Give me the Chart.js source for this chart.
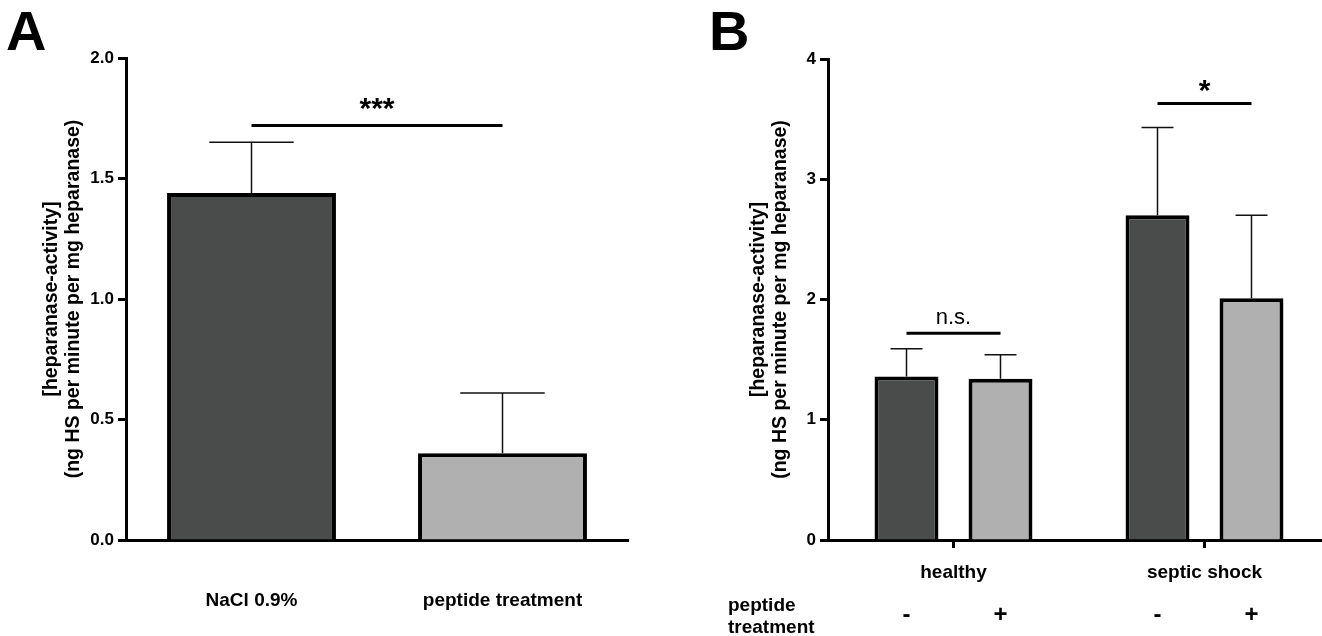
<!DOCTYPE html>
<html>
<head>
<meta charset="utf-8">
<script src="https://cdn.jsdelivr.net/npm/chart.js@4.4.1/dist/chart.umd.min.js"></script>
<style>
  html, body { margin: 0; padding: 0; background: #fff; overflow: hidden; width: 1322px; height: 636px; }
  .panel-letter { position: absolute; font: bold 56px "Liberation Sans", Arial, sans-serif; line-height: 56px; color: #000; }
  canvas { position: absolute; top: 0; }
</style>
</head>
<body>
<div class="panel-letter" style="left:6px;top:3px;">A</div>
<div class="panel-letter" style="left:709px;top:3px;">B</div>
<canvas id="chartA" width="660" height="636" style="left:0px;"></canvas>
<canvas id="chartB" width="650" height="636" style="left:690px;"></canvas>
<script>
// ============================================
// heparanase activity - panel A / panel B
// ============================================

const FONT = '"Liberation Sans", Arial, sans-serif';
const DARK = '#4a4c4b';
const LIGHT = '#b0b0b0';

// panel A data
const catsA = ['NaCl 0.9%', 'peptide treatment'];
const meanA = [1.44, 0.36];
const semA = [0.21, 0.25];
const ticksA = [0, 0.5, 1.0, 1.5, 2.0];

// panel B data
const groupsB = ['healthy', 'septic shock'];
const untreatedB = [1.36, 2.70];
const untreatedSemB = [0.23, 0.73];
const treatedB = [1.34, 2.01];
const treatedSemB = [0.20, 0.69];
const ticksB = [0, 1, 2, 3, 4];
const signsB = ['-', '+'];

const yTitle = ['[heparanase-activity]', '(ng HS per minute per mg heparanase)'];

// error bars, significance lines, extra labels
const annotatePlugin = {
  id: 'annotate',
  afterDatasetsDraw(chart, args, opts) {
    const ctx = chart.ctx;
    const yScale = chart.scales.y;
    ctx.save();

    // error bars (upper only)
    (opts.errors || []).forEach((errs, di) => {
      const meta = chart.getDatasetMeta(di);
      meta.data.forEach((bar, i) => {
        const mean = chart.data.datasets[di].data[i];
        const top = yScale.getPixelForValue(mean + errs[i]);
        const half = bar.width / 4;
        ctx.strokeStyle = '#111';
        ctx.lineWidth = 1.5;
        ctx.beginPath();
        ctx.moveTo(bar.x, bar.y);
        ctx.lineTo(bar.x, top);
        ctx.moveTo(bar.x - half, top);
        ctx.lineTo(bar.x + half, top);
        ctx.stroke();
      });
    });

    // significance lines
    (opts.sig || []).forEach(s => {
      const a = chart.getDatasetMeta(s.from[0]).data[s.from[1]];
      const b = chart.getDatasetMeta(s.to[0]).data[s.to[1]];
      const y = yScale.getPixelForValue(s.value);
      ctx.strokeStyle = '#000';
      ctx.lineWidth = 3;
      ctx.beginPath();
      ctx.moveTo(a.x, y);
      ctx.lineTo(b.x, y);
      ctx.stroke();
      ctx.fillStyle = '#000';
      ctx.font = s.font;
      ctx.textAlign = 'center';
      ctx.textBaseline = 'alphabetic';
      ctx.fillText(s.text, (a.x + b.x) / 2, y - s.lift);
    });

    // treatment row under the x axis
    if (opts.row) {
      const base = chart.chartArea.bottom;
      ctx.fillStyle = '#000';
      ctx.font = 'bold 19px ' + FONT;
      ctx.textAlign = 'left';
      ctx.textBaseline = 'middle';
      opts.row.label.forEach((t, k) => {
        ctx.fillText(t, opts.row.left, base + opts.row.labelY[k]);
      });
      ctx.font = 'bold 24px ' + FONT;
      ctx.textAlign = 'center';
      opts.row.signs.forEach((sign, di) => {
        chart.getDatasetMeta(di).data.forEach(bar => {
          ctx.fillText(sign, bar.x, base + opts.row.signY);
        });
      });
    }
    ctx.restore();
  }
};

function yAxis(ticks, width, titlePad, fmt) {
  return {
    min: ticks[0],
    max: ticks[ticks.length - 1],
    afterBuildTicks: scale => { scale.ticks = ticks.map(v => ({ value: v })); },
    afterFit: scale => { scale.width = width; },
    border: { display: true, color: '#000', width: 3 },
    grid: { display: true, drawOnChartArea: false, drawTicks: true, tickLength: 8, tickWidth: 3, tickColor: '#000' },
    ticks: {
      color: '#000',
      padding: 4,
      font: { family: FONT, size: 17, weight: 'bold' },
      callback: v => fmt(v)
    },
    title: {
      display: true,
      text: yTitle,
      color: '#000',
      font: { family: FONT, size: 19.5, weight: 'bold', lineHeight: 1.15 },
      padding: { top: titlePad, bottom: 0 }
    }
  };
}

// panel A
function renderPanelA() {
  const ctx = document.getElementById('chartA').getContext('2d');
  return new Chart(ctx, {
    type: 'bar',
    data: {
      labels: catsA,
      datasets: [{
        data: meanA,
        backgroundColor: [DARK, LIGHT],
        borderColor: '#000',
        borderWidth: 4,
        borderSkipped: 'bottom',
        categoryPercentage: 1,
        barPercentage: 0.673
      }]
    },
    options: {
      responsive: false,
      animation: false,
      layout: { padding: { top: 58, right: 32, left: 0, bottom: 0 } },
      scales: {
        x: {
          afterFit: scale => { scale.height = 96; },
          border: { display: true, color: '#000', width: 3 },
          grid: { display: false },
          ticks: { color: '#000', padding: 41, font: { family: FONT, size: 19, weight: 'bold' } }
        },
        y: yAxis(ticksA, 126, 40, v => v.toFixed(1))
      },
      plugins: {
        legend: { display: false },
        tooltip: { enabled: false },
        annotate: {
          errors: [semA],
          sig: [{ from: [0, 0], to: [0, 1], value: 1.72, text: '***', font: 'bold 30px ' + FONT, lift: 7 }]
        }
      }
    },
    plugins: [annotatePlugin]
  });
}

// panel B
function renderPanelB() {
  const ctx = document.getElementById('chartB').getContext('2d');
  const common = {
    borderColor: '#000',
    borderWidth: 4,
    borderSkipped: 'bottom',
    categoryPercentage: 0.749,
    barPercentage: 0.68
  };
  return new Chart(ctx, {
    type: 'bar',
    data: {
      labels: groupsB,
      datasets: [
        Object.assign({ label: 'untreated', data: untreatedB, backgroundColor: DARK }, common),
        Object.assign({ label: 'peptide', data: treatedB, backgroundColor: LIGHT }, common)
      ]
    },
    options: {
      responsive: false,
      animation: false,
      layout: { padding: { top: 59, right: 10, left: 0, bottom: 0 } },
      scales: {
        x: {
          afterFit: scale => { scale.height = 96; },
          border: { display: true, color: '#000', width: 3 },
          grid: { display: true, drawOnChartArea: false, offset: false, tickLength: 8, tickWidth: 3, tickColor: '#000' },
          ticks: { color: '#000', padding: 13, font: { family: FONT, size: 19, weight: 'bold' } }
        },
        y: yAxis(ticksB, 138, 57, v => String(v))
      },
      plugins: {
        legend: { display: false },
        tooltip: { enabled: false },
        annotate: {
          errors: [untreatedSemB, treatedSemB],
          sig: [
            { from: [0, 0], to: [1, 0], value: 1.72, text: 'n.s.', font: '22px ' + FONT, lift: 9 },
            { from: [0, 1], to: [1, 1], value: 3.63, text: '*', font: 'bold 30px ' + FONT, lift: 3 }
          ],
          row: { label: ['peptide', 'treatment'], left: 38, labelY: [66, 88], signs: signsB, signY: 75 }
        }
      }
    },
    plugins: [annotatePlugin]
  });
}

renderPanelA();
renderPanelB();
</script>
</body>
</html>
